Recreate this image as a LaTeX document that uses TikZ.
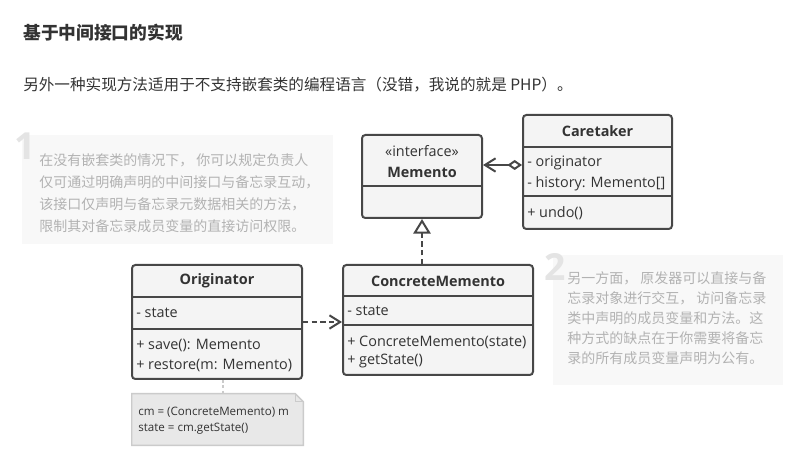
\documentclass[tikz,border=0pt]{standalone}
\usepackage{fontspec}
\setmainfont{Open Sans}
\newfontfamily\cjk{Noto Sans CJK SC}
\usetikzlibrary{arrows.meta,fit}
\definecolor{boxline}{HTML}{474747}
\definecolor{boxfill}{HTML}{F4F4F4}
\definecolor{textdark}{HTML}{333333}
\definecolor{notebg}{HTML}{F8F8F8}
\definecolor{notetext}{HTML}{B2B2B2}
\definecolor{numcol}{HTML}{E4E4E4}
\definecolor{codefill}{HTML}{E8E8E8}
\definecolor{codeline}{HTML}{CBCBCB}

\begin{document}
\begin{tikzpicture}[x=0.75pt, y=-0.75pt,
    box/.style={draw=boxline, line width=1.5pt, rounded corners=2.5pt, fill=boxfill, inner sep=0pt},
    divider/.style={draw=boxline, line width=1.5pt},
    head/.style={inner sep=0pt, text=textdark, font=\fontsize{10.8}{12}\selectfont\bfseries},
    member/.style={anchor=west, inner sep=0pt, text=textdark, font=\fontsize{10.8}{12}\selectfont},
    link/.style={draw=boxline, line width=1.5pt},
    dep/.style={link, dash pattern=on 4pt off 2.5pt},
    notebox/.style={fill=notebg, inner sep=0pt},
    notetxt/.style={anchor=north west, inner sep=0pt, align=left, text=notetext},
    num/.style={anchor=north west, inner sep=0pt, text=numcol, font=\fontsize{28}{30}\selectfont\bfseries}]
    \useasboundingbox (0,0) rectangle (810,466);

    \node[anchor=west, inner sep=0pt, text=textdark, font=\cjk\fontsize{13.3}{16}\selectfont\bfseries] (title) at (23,33) {基于中间接口的实现};
    \node[anchor=west, inner sep=0pt, text=textdark, font=\cjk\fontsize{11.7}{14}\selectfont] (intro) at (23,85) {另外一种实现方法适用于不支持嵌套类的编程语言（没错，我说的就是 PHP）。};

    \node[notebox, fit={(22,135) (333,244)}] (note1) {};
    \node[num] (num1) at (14,133) {1};
    \node[notetxt, font=\cjk\fontsize{10.5}{16.5}\selectfont] (note1text) at (39,153) {在没有嵌套类的情况下， 你可以规定负责人\\仅可通过明确声明的中间接口与备忘录互动，\\该接口仅声明与备忘录元数据相关的方法，\\限制其对备忘录成员变量的直接访问权限。};

    \node[notebox, fit={(553,255) (783,385)}] (note2) {};
    \node[num] (num2) at (544,253) {2};
    \node[notetxt, font=\cjk\fontsize{10.5}{15}\selectfont] (note2text) at (567,271) {另一方面， 原发器可以直接与备\\忘录对象进行交互， 访问备忘录\\类中声明的成员变量和方法。这\\种方式的缺点在于你需要将备忘\\录的所有成员变量声明为公有。};

    \node[box, fit={(362,135) (482,218)}] (memento) {};
    \draw[divider] (memento.west |- 0,186) -- (memento.east |- 0,186);
    \node[member, anchor=center] (mementotag) at (memento.north |- 0,151) {«interface»};
    \node[head] (mementohead) at (memento.north |- 0,172) {Memento};

    \node[box, fit={(523,115) (672,229)}] (caretaker) {};
    \draw[divider] (caretaker.west |- 0,147) -- (caretaker.east |- 0,147);
    \draw[divider] (caretaker.west |- 0,196) -- (caretaker.east |- 0,196);
    \node[head] (caretakerhead) at (caretaker.north |- 0,131) {Caretaker};
    \node[member] (caretakerorig) at (527,163) {- originator};
    \node[member] (caretakerhist) at (527,184) {- history: Memento[]};
    \node[member] (caretakerundo) at (527,213) {+ undo()};

    \node[box, fit={(132,265) (302,379)}] (orig) {};
    \draw[divider] (orig.west |- 0,297) -- (orig.east |- 0,297);
    \draw[divider] (orig.west |- 0,329) -- (orig.east |- 0,329);
    \node[head] (orighead) at (orig.north |- 0,281) {Originator};
    \node[member] (origstate) at (136,313) {- state};
    \node[member] (origsave) at (136,345) {+ save(): Memento};
    \node[member] (origrestore) at (136,365) {+ restore(m: Memento)};

    \node[box, fit={(343,265) (533,375)}] (cmemento) {};
    \draw[divider] (cmemento.west |- 0,296) -- (cmemento.east |- 0,296);
    \draw[divider] (cmemento.west |- 0,325) -- (cmemento.east |- 0,325);
    \node[head] (cmementohead) at (cmemento.north |- 0,281) {ConcreteMemento};
    \node[member] (cmementostate) at (347,311) {- state};
    \node[member] (cmementoinit) at (347,342) {+ ConcreteMemento(state)};
    \node[member] (cmementoget) at (347,361) {+ getState()};

    \node[inner sep=0pt, fit={(132,394) (303,445)}] (code) {};
    \filldraw[fill=codefill, draw=codeline, line width=1.1pt] (code.north west) -- ([xshift=-6pt]code.north east) -- ([yshift=-6pt]code.north east) -- (code.south east) -- (code.south west) -- cycle;
    \draw[draw=codeline, line width=1.1pt] ([xshift=-6pt]code.north east) -- ([xshift=-6pt,yshift=-6pt]code.north east) -- ([yshift=-6pt]code.north east);
    \node[member, font=\fontsize{8.7}{10}\selectfont] (codeline1) at (138,412) {cm = (ConcreteMemento) m};
    \node[member, font=\fontsize{8.7}{10}\selectfont] (codeline2) at (138,429) {state = cm.getState()};

    \draw[link, {Diamond[open, length=11pt, width=7.5pt]}-{Straight Barb[length=8pt, width=10pt]}] (caretaker.west |- 0,165) -- (memento.east |- 0,165);
    \draw[dep, -{Triangle[open, length=11pt, width=13pt]}] (cmemento.north -| memento.south) -- (memento.south);
    \draw[dep, -{Straight Barb[length=8pt, width=10pt]}] (orig.east |- 0,322) -- (cmemento.west |- 0,322);
    \draw[draw=codeline, line width=1.1pt, dash pattern=on 2pt off 2pt] (orig.south -| 223,0) -- (code.north -| 223,0);
\end{tikzpicture}
\end{document}
